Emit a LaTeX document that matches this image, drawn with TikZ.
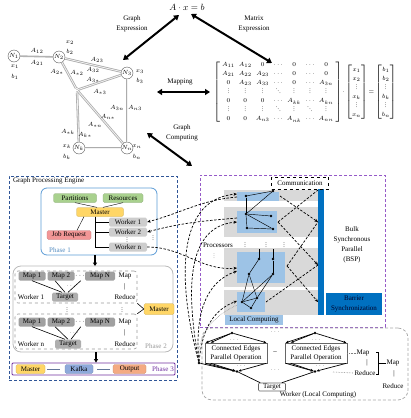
\documentclass[tikz,border=0pt]{standalone}
\usepackage{fontspec}
\setmainfont{Liberation Serif}
\usetikzlibrary{arrows.meta,calc}
\definecolor{gpeblue}{RGB}{47,85,151}
\definecolor{phoneblue}{RGB}{91,155,213}
\definecolor{purp}{RGB}{112,48,160}
\definecolor{bsppurp}{RGB}{150,90,200}
\definecolor{grn}{RGB}{169,209,142}
\definecolor{yel}{RGB}{255,214,102}
\definecolor{pinkred}{RGB}{242,150,150}
\definecolor{wgray}{RGB}{205,205,205}
\definecolor{mgray}{RGB}{160,160,160}
\definecolor{kafkablue}{RGB}{142,169,219}
\definecolor{outsalmon}{RGB}{244,170,130}
\definecolor{barblue}{RGB}{0,112,192}
\definecolor{lblue}{RGB}{157,195,230}
\definecolor{bandgray}{RGB}{217,217,217}
% compact vertical and diagonal ellipses that scale with small type
\newcommand{\svd}{\vbox{\baselineskip2.1pt\lineskiplimit0pt\hbox{.}\hbox{.}\hbox{.}}}
\newcommand{\sdd}{\mathinner{\mkern1mu\raise4.2pt\hbox{.}\mkern1mu\raise2.1pt\hbox{.}\mkern1mu\hbox{.}\mkern1mu}}
\begin{document}
\begin{tikzpicture}[x=1pt,y=-1pt,font=\fontsize{7}{8}\selectfont,
  every node/.style={inner sep=0.8pt},
  bigarrow/.style={line width=2pt,{Triangle[length=5pt,width=6pt]}-{Triangle[length=5pt,width=6pt]}},
  gnode/.style={circle,draw=gray!70!black,fill=white,minimum size=12pt,inner sep=0pt,font=\fontsize{6}{6}\selectfont},
  gline/.style={draw=gray!65,line width=0.8pt,double=gray!10,double distance=0.8pt},
  elab/.style={font=\fontsize{6}{6}\selectfont,inner sep=0pt},
  tagbox/.style={rounded corners=1.5pt,minimum height=9pt,inner sep=1pt},
  grnbox/.style={tagbox,fill=grn,draw=grn!80!black,line width=0.3pt},
  yelbox/.style={tagbox,fill=yel,draw=yel!80!black,line width=0.3pt},
  wbox/.style={tagbox,fill=wgray,minimum width=38pt},
  mapbox/.style={tagbox,fill=mgray,minimum width=27pt},
  tgtbox/.style={tagbox,fill=wgray!85!black,minimum width=26pt},
  grpbox/.style={draw=gray!80,dashed,line width=0.6pt,rounded corners=3pt},
  dsh/.style={dashed,line width=0.7pt,dash pattern=on 2.5pt off 1.6pt},
  dtip/.style={-{Stealth[length=3.5pt,width=3pt]}},
  pdot/.style={circle,fill=black,inner sep=0pt,minimum size=2.6pt},
  thin line/.style={line width=0.4pt},
  ell/.style={font=\fontsize{6}{6}\selectfont,inner sep=0pt},
]
\useasboundingbox (0,0) rectangle (410,418);

% ---------------- equation and the three views ----------------
\node[font=\fontsize{9}{10}\selectfont] (eq) at (187,7) {$A\cdot x=b$};
\coordinate (geA) at (179,15);  \coordinate (geB) at (123,60);
\coordinate (meA) at (191,14);  \coordinate (meB) at (272,63);
\coordinate (mpA) at (157,92);  \coordinate (mpB) at (210,92);
\coordinate (gcA) at (147,133); \coordinate (gcB) at (192,166);
\draw[bigarrow] (geA) -- (geB);
\draw[bigarrow] (meA) -- (meB);
\draw[bigarrow] (mpA) -- (mpB);
\draw[bigarrow] (gcA) -- (gcB);
\node[align=center,font=\fontsize{7}{10}\selectfont] (lge) at (132,24) {Graph\\Expression};
\node[align=center,font=\fontsize{7}{10}\selectfont] (lme) at (254,24) {Matrix\\Expression};
\node (lmp) at (180,82) {Mapping};
\node[align=center,font=\fontsize{7}{10}\selectfont] (lgc) at (182,133) {Graph\\Computing};

% ---------------- graph view ----------------
\node[gnode] (n1) at (14,56) {$N_1$};
\node[gnode] (n2) at (59,57) {$N_2$};
\node[gnode] (n3) at (127,73) {$N_3$};
\node[ell] (nd) at (77,90) {\svd};
\node[gnode] (nk) at (79,148) {$N_k$};
\node[gnode] (nn) at (127,148) {$N_n$};
\draw[draw=gray!60,line width=1.6pt] (n1) -- (n2);
\draw[gline] (n2) -- (n3);
\draw[gline] (n2) -- (nd);
\draw[gline] (nd) -- (n3);
\draw[gline] (nd) -- (nk);
\draw[gline] (nd) -- (nn);
\draw[gline] (n3) -- (nn);
\draw[gline] (nk) -- (nn);
\foreach \p/\t in {{15,67}/x_1,{15,77}/b_1,{70,43}/x_2,{70,52}/b_2,{140,72}/x_3,{140,81}/b_3,
  {67,147}/x_k,{67,157}/b_k,{137,147}/x_n,{137,157}/b_n,
  {37,51}/A_{12},{37,63}/A_{21},{97,60}/A_{23},{93,70}/A_{32},{57,72}/A_{2*},{77,73}/A_{*2},
  {93,80}/A_{3*},{100,92}/A_{*3},{117,108}/A_{3n},{135,108}/A_{n3},{95,125}/A_{*n},{108,117}/A_{n*},
  {68,132}/A_{*k},{85,135}/A_{k*}}
  \node[elab] at (\p) {$\t$};

% ---------------- matrix view ----------------
\node[inner sep=0pt,font=\fontsize{5.6}{9}\selectfont] (mat) at (305,92) {$\arraycolsep=2pt\left[\begin{array}{ccccccc}
A_{11}&A_{12}&0&\cdots&0&\cdots&0\\
A_{21}&A_{22}&A_{23}&\cdots&0&\cdots&0\\
0&A_{23}&A_{33}&\cdots&0&\cdots&A_{3n}\\
\svd&\svd&\svd&\sdd&\svd&\svd&\svd\\
0&0&0&\cdots&A_{kk}&\cdots&A_{kn}\\
\svd&\svd&\svd&\sdd&\svd&\sdd&\svd\\
0&0&A_{n3}&\cdots&A_{nk}&\cdots&A_{nn}
\end{array}\right]\!\cdot\!\left[\begin{array}{@{}c@{}}x_1\\x_2\\\svd\\x_k\\\svd\\x_n\end{array}\right]\!=\!\left[\begin{array}{@{}c@{}}b_1\\b_2\\\svd\\b_k\\\svd\\b_n\end{array}\right]$};

% ---------------- graph processing engine ----------------
\node[draw=gpeblue,dash pattern=on 3pt off 2pt,line width=0.8pt,minimum width=168pt,minimum height=204pt,inner sep=0pt] (gpe) at (93,278) {};
\node[anchor=west] (gpel) at (12,181) {Graph Processing Engine};

% phase 1
\node[draw=phoneblue,line width=0.8pt,rounded corners=6pt,minimum width=116pt,minimum height=67pt,inner sep=0pt] (ph1) at (99,221.5) {};
\node[grnbox,minimum width=43pt] (part) at (75,198) {Partitions};
\node[grnbox,minimum width=40pt] (res) at (123,198) {Resources};
\node[yelbox,minimum width=47pt] (m1) at (100,212) {Master};
\node[wbox] (w1) at (128,222) {Worker 1};
\node[wbox] (w2) at (128,232) {Worker 2};
\node[wbox] (wn) at (128,247) {Worker n};
\node[tagbox,fill=pinkred,draw=pinkred!80!black,line width=0.3pt,minimum width=44pt] (job) at (69,235) {Job Request};
\node[text=phoneblue!90!black] (ph1l) at (60,250) {Phase 1};
\draw[thin line] (part.south) -- ([xshift=-3pt]m1.north);
\draw[thin line] (res.south) -- ([xshift=3pt]m1.north);
\draw[thin line] ([xshift=-16pt]m1.south) -- ([xshift=8pt]job.north);
\coordinate (trunk) at ([xshift=-5pt]m1.south);
\draw[thin line] (trunk) |- (w1.west);
\draw[thin line] (trunk) |- (w2.west);
\draw[thin line] (trunk) |- (wn.west);
\node[ell] (wd1) at (127,240) {\svd};
\node[ell] (wd2) at (153,238) {\svd};

% phase 2
\node[draw=gray!55,line width=0.8pt,rounded corners=8pt,minimum width=160pt,minimum height=86pt,inner sep=0pt] (ph2) at (93,309) {};
\draw[line width=1.2pt,-{Triangle[length=3.5pt,width=4pt]}] ([xshift=-4pt]ph1.south) -- ([xshift=2pt,yshift=-0.5pt]ph2.north);
\node[text=gray!80] (ph2l) at (156,346) {Phase 2};
\node[grpbox,minimum width=122pt,minimum height=32pt,inner sep=0pt] (g1) at (76,287) {};
\node[grpbox,minimum width=122pt,minimum height=35pt,inner sep=0pt] (gn) at (76,331.5) {};
\foreach \g/\y/\ty/\wl in {a/276/297/Worker 1,b/322/344/Worker n}{
  \node[mapbox] (\g m1) at (32,\y) {Map 1};
  \node[mapbox] (\g m2) at (61,\y) {Map 2};
  \node (\g md) at (80,\y) {$\cdots$};
  \node[mapbox,minimum width=30pt] (\g mn) at (100,\y) {Map N};
  \node (\g map) at (125,\y) {Map};
  \node (\g bar) at (124.5,{(\y+\ty)/2}) {|};
  \node (\g red) at (125,\ty) {Reduce};
  \node (\g wl) at (31,\ty) {\wl};
}
\node[tgtbox] (at) at (65,297) {Target};
\node[tgtbox] (bt) at (68,344) {Target};
\foreach \g in {a,b}{
  \draw[line width=0.6pt] (\g m1.south) -- ([xshift=-3pt]\g t.north);
  \draw[line width=0.6pt] ([xshift=-6pt]\g m2.south) -- (\g t.north);
  \draw[line width=0.6pt] ([xshift=-4pt]\g mn.south west) -- ([xshift=3pt]\g t.north);
}
\node[font=\fontsize{5}{5}\selectfont] at (71,286.5) {$\cdots$};
\node[font=\fontsize{5}{5}\selectfont] at (74,333) {$\cdots$};
\node[ell] (gd1) at (67,310) {\svd};
\node[ell] (gd2) at (122,310) {\svd};
\node[yelbox,minimum width=30pt,minimum height=11pt] (m2) at (159,309) {Master};
\draw[line width=0.6pt] (g1.south east) -- (m2.west);
\draw[line width=0.6pt] (gn.north east) -- (m2.west);

% phase 3
\node[draw=purp,line width=0.9pt,rounded corners=1pt,minimum width=163pt,minimum height=12pt,inner sep=0pt] (ph3) at (93.5,369) {};
\draw[line width=1.2pt,-{Triangle[length=3.5pt,width=4pt]}] ([xshift=3pt]ph2.south) -- ([xshift=2.5pt]ph3.north);
\node[yelbox,minimum width=29pt] (m3) at (30.5,369) {Master};
\node[tagbox,fill=kafkablue,draw=kafkablue!80!black,line width=0.3pt,minimum width=28pt] (kafka) at (79,369) {Kafka};
\node[tagbox,fill=outsalmon,draw=outsalmon!80!black,line width=0.3pt,minimum width=33pt] (outp) at (129.5,369) {Output};
\node[text=purp] (ph3l) at (163,369) {Phase 3};
\draw[kafkablue!70!black,line width=0.7pt,shorten <=2pt,shorten >=5pt] (m3) -- (kafka);
\draw[kafkablue!70!black,line width=0.7pt,shorten <=4pt,shorten >=3pt] (kafka) -- (outp);

% ---------------- bulk synchronous parallel ----------------
\node[draw=bsppurp,dash pattern=on 3pt off 2pt,line width=0.9pt,minimum width=185pt,minimum height=152pt,inner sep=0pt] (bsp) at (292.5,251) {};
\foreach \n/\ya/\yb in {1/190/201,2/207/237,3/248/287,4/290/315}
  \fill[bandgray] (224,\ya) rectangle (318,\yb);
\fill[lblue] (237,192) rectangle (279,201);
\fill[lblue] (237,211) rectangle (277,233);
\fill[lblue] (237,252) rectangle (285,283);
\fill[lblue] (237,292) rectangle (265,312);
\node[fill=barblue,minimum width=6pt,minimum height=126pt,inner sep=0pt] (bar) at (321,252) {};
\node[fill=barblue,minimum width=56pt,minimum height=22pt,align=center,inner sep=0pt,font=\fontsize{7}{9.5}\selectfont,text=black!85!blue] (barrier) at (354,304) {Barrier\\Synchronization};
\node[align=center,font=\fontsize{7}{10}\selectfont] (bspl) at (352,245) {Bulk\\Synchronous\\Parallel\\(BSP)};
\node[draw,dashed,fill=white,line width=0.7pt,minimum width=57pt,minimum height=12pt,inner sep=0pt] (comm) at (300,183) {Communication};
\node[fill=lblue,minimum width=58pt,minimum height=10pt,inner sep=0pt] (lc) at (254,320) {Local Computing};
\node (proc) at (218,245) {Processors};
\foreach \x in {245,266,284} \node[ell] at (\x,245) {\svd};
\node[ell,text=gray] at (214,256) {\svd};

% vertices held by the processors
\foreach \n/\p in {a/{246,196},b/{273,191},c/{246,214},d/{271,216},e/{247,228},f/{273,229},
  g/{259,259},h/{273,259},i/{249,274},j/{273,274},k/{242,302},l/{257,298},m/{251,308}}
  \node[pdot] (p\n) at (\p) {};
\coordinate (tg) at (259,249); \coordinate (th) at (273,249);
\foreach \u/\v in {pa/pb,pa/pc,pb/pc,pc/pd,pc/pf,pc/pe,pe/pf,tg/pg,th/ph,pg/pi,ph/pj,pi/pk,pi/pl,pj/pk,pj/pl,pk/pm,pm/pl,pk/pl}
  \draw[line width=0.45pt] (\u) -- (\v);

% message exchange towards the barrier
\coordinate (r1) at (280,196); \coordinate (r2) at (278,222); \coordinate (r3) at (287,266); \coordinate (r4) at (266,302);
\coordinate (s1) at (318,190); \coordinate (s2) at (318,222); \coordinate (s3) at (318,265); \coordinate (s4) at (318,302);
\draw[dsh,dtip] (r1) -- (s2);
\draw[dsh] (r2) -- (s1);
\draw[dsh,dtip] (r2) -- (s3);
\draw[dsh] (r3) -- (s2);
\draw[dsh,dtip] (r3) -- (s4);
\draw[dsh] (r4) -- (s3);

% ---------------- worker (local computing) ----------------
\node[draw=gray!70,dash pattern=on 3pt off 2pt,line width=0.7pt,rounded corners=10pt,minimum width=206pt,minimum height=72pt,inner sep=0pt] (wlc) at (305,364) {};
\node (wlcl) at (318,395) {Worker (Local Computing)};
\node[draw=gray!80!black,line width=0.6pt,align=center,minimum width=62pt,minimum height=20pt,inner sep=0.5pt,font=\fontsize{7}{9}\selectfont] (cea) at (236,353) {Connected Edges\\Parallel Operation};
\node[draw=gray!80!black,line width=0.6pt,align=center,minimum width=62pt,minimum height=20pt,inner sep=0.5pt,font=\fontsize{7}{9}\selectfont] (ceb) at (316,353) {Connected Edges\\Parallel Operation};
\node[pdot] (ta) at (232,333) {};
\node[pdot] (tb) at (315,333) {};
\node[pdot] (ba) at (237,371.5) {};
\node[pdot] (bb) at (315,371.5) {};
\node[pdot] (src) at (199,363) {};
\foreach \t/\c in {ta/cea,tb/ceb}{
  \draw[line width=0.7pt,-{Stealth[length=3pt,width=2.5pt]}] (\t) -- ([xshift=1pt]\c.north west);
  \draw[line width=0.7pt,-{Stealth[length=3pt,width=2.5pt]}] (\t) -- ([xshift=6pt]\c.north west);
  \draw[line width=0.7pt,-{Stealth[length=3pt,width=2.5pt]}] (\t) -- ([xshift=-1pt]\c.north east);
}
\foreach \b/\c in {ba/cea,bb/ceb}{
  \draw[line width=0.7pt,-{Stealth[length=3pt,width=2.5pt]}] ([xshift=1pt]\c.south west) -- (\b);
  \draw[line width=0.7pt,-{Stealth[length=3pt,width=2.5pt]}] ([xshift=6pt]\c.south west) -- (\b);
  \draw[line width=0.7pt,-{Stealth[length=3pt,width=2.5pt]}] ([xshift=-1pt]\c.south east) -- (\b);
}
\draw[line width=0.7pt] (src) -- (ba);
\node[font=\fontsize{5}{5}\selectfont] at (234,340) {$\cdots$};
\node[font=\fontsize{5}{5}\selectfont] at (316,340) {$\cdots$};
\node[font=\fontsize{5}{5}\selectfont] at (241,366) {$\cdots$};
\node[font=\fontsize{5}{5}\selectfont] at (320,366) {$\cdots$};
\node[font=\fontsize{5}{5}\selectfont] at (275,332) {$\cdots$};
\node at (275,353) {--};
\node[font=\fontsize{5}{5}\selectfont] at (275,370) {$\cdots$};
\node[draw=gray!80!black,line width=0.6pt,rounded corners=1pt,minimum width=27pt,minimum height=8pt,inner sep=0.5pt] (tgt) at (272,387) {Target};
\draw[line width=0.7pt] (ba) -- ([xshift=2pt]tgt.north west);
\draw[line width=0.7pt] (bb) -- ([xshift=-4pt]tgt.north east);
\node (mrm) at (363,353) {Map};
\node (mrb) at (367,362.5) {|};
\node (mrr) at (365,373) {Reduce};
\draw[gray,densely dotted,line width=0.6pt] (ceb.east) -- (mrm.west);
\draw[gray,densely dotted,line width=0.6pt] (333,372) -- (mrr.west);
\coordinate (bk1) at (378,352); \coordinate (bk2) at (378,374);
\draw[line width=0.6pt] ([xshift=-2pt]bk1) -- (bk1) -- (bk2) -- ([xshift=-2pt]bk2);
\node (mm) at (393,363) {Map};
\draw[line width=0.6pt] (378,363) -- (mm.west);
\node (mmb) at (394,373.5) {|};
\node (mmr) at (393,386) {Reduce};

% ---------------- links between engine, processors and workers ----------------
\draw[dsh,dtip] (237,197) to[out=185,in=15] (w1.east);
\draw[dsh,dtip] (237,218) to[out=185,in=15] (w2.east);
\draw[dsh,dtip] (wn.east) to[out=0,in=185] (237,268);
\draw[dsh,dtip] (src) to[out=105,in=185] (237,194);
\draw[dsh,dtip] (src) to[out=100,in=185] (237,222);
\draw[dsh,dtip] (src) to[out=95,in=200] (237,271);
\draw[dsh,dtip] (src) to[out=85,in=200] (237,301);
\draw[gray,densely dotted,line width=0.5pt] (src) to[out=95,in=205] (237,305);
\end{tikzpicture}
\end{document}
